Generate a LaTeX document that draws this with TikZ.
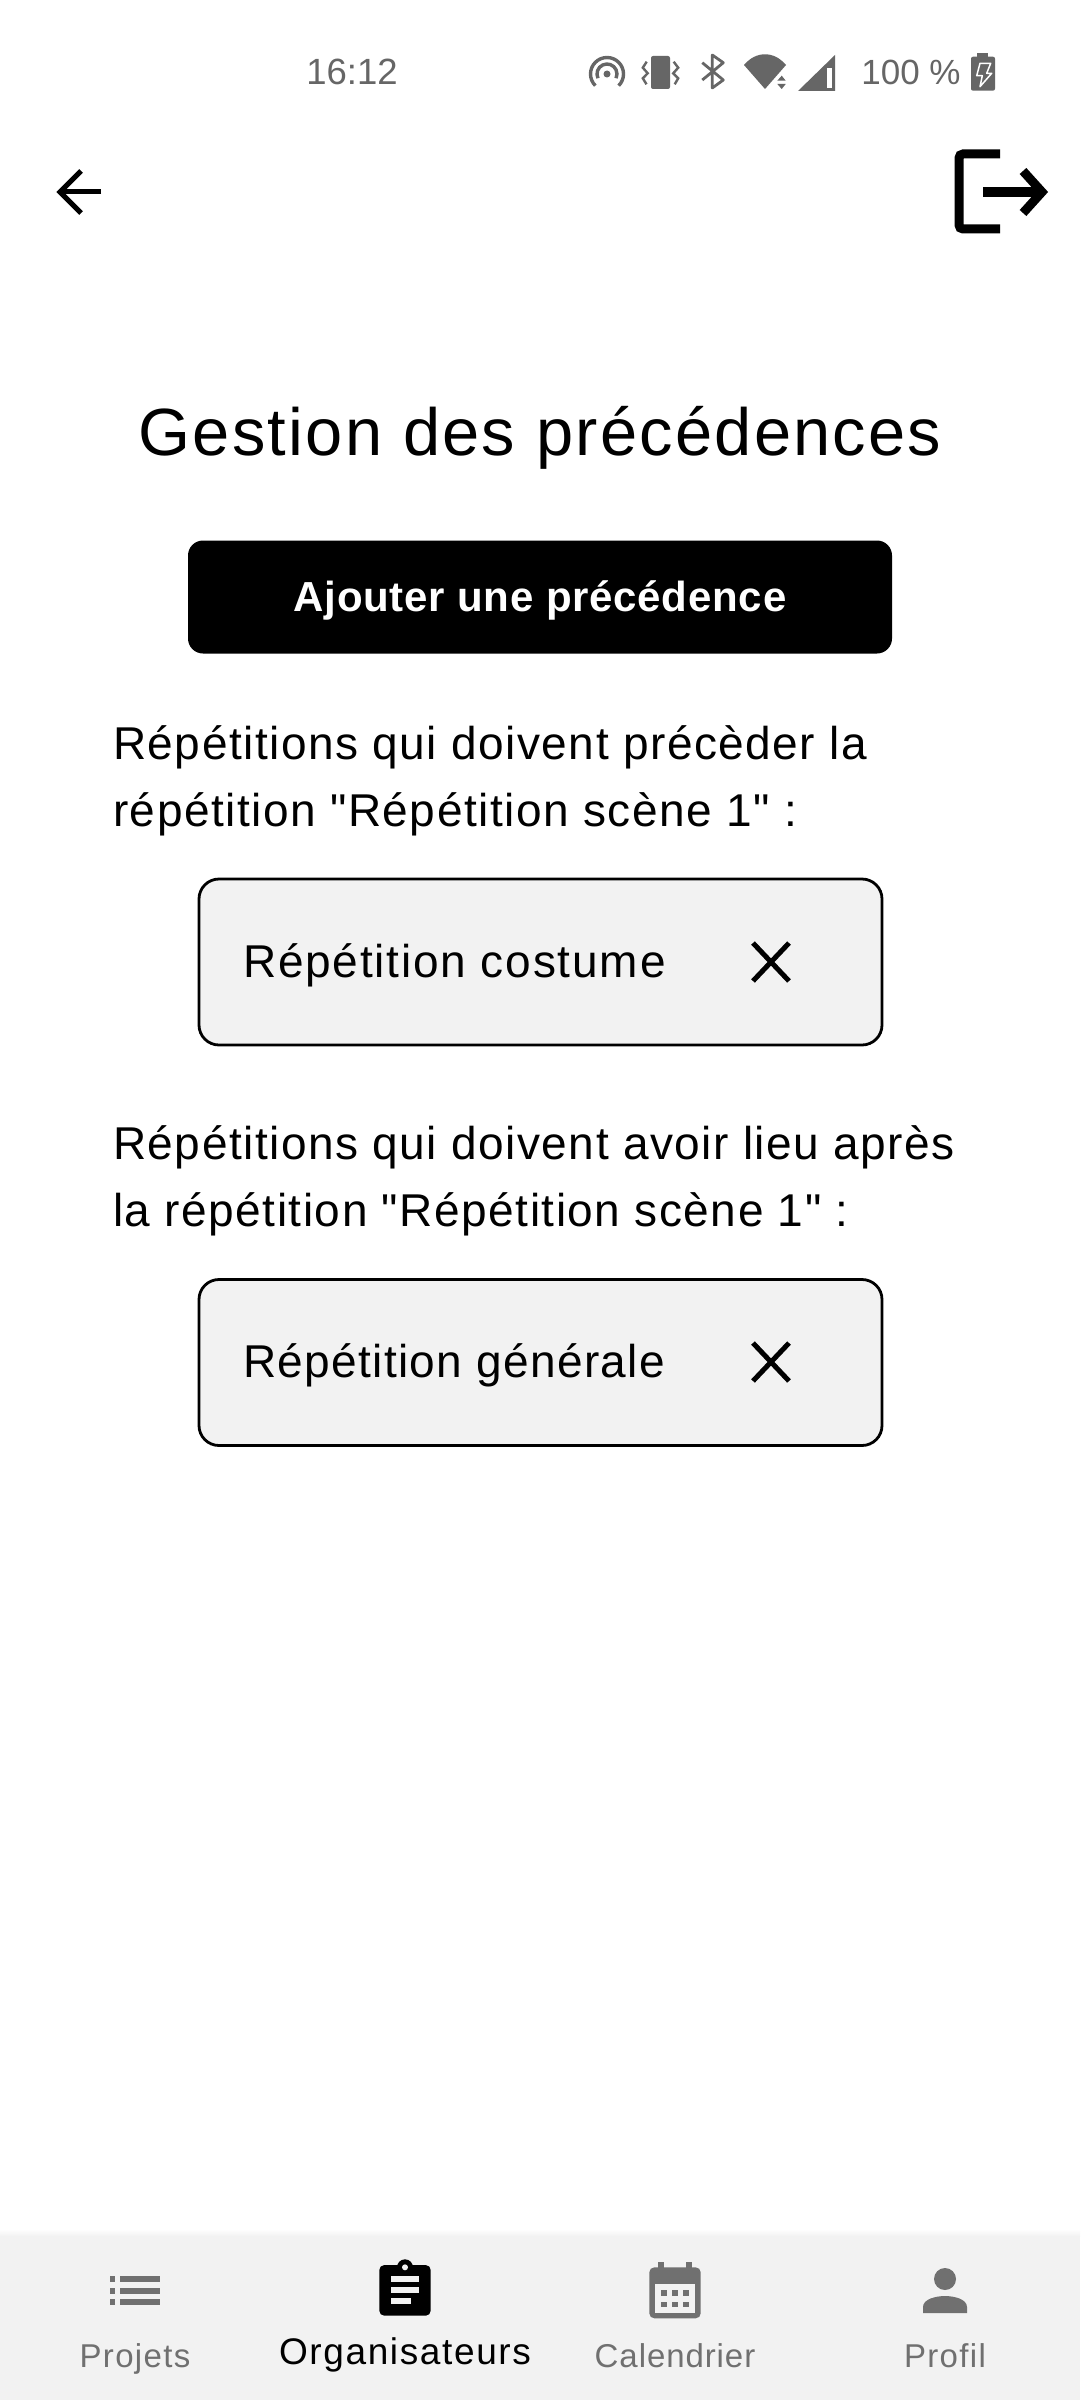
\documentclass[tikz,border=0pt]{standalone}
\usepackage{fontspec}
\setmainfont[Ligatures=TeXOff]{Liberation Sans}
\usetikzlibrary{positioning}
\definecolor{barbg}{RGB}{242, 242, 242}
\definecolor{statusgray}{RGB}{102, 102, 102}
\definecolor{navgray}{RGB}{112, 112, 112}
\tikzset{
    bodytext/.style={anchor=north west, align=left, inner sep=0pt,
                     font=\fontsize{46}{67}\selectfont\addfontfeature{LetterSpace=3.3}},
    cardbox/.style={draw=black, line width=2.8pt, fill=barbg, rounded corners=20pt,
                    minimum width=683pt, minimum height=166pt, inner sep=0pt},
    cardtext/.style={anchor=base west, inner sep=0pt,
                     font=\fontsize{46}{50}\selectfont\addfontfeature{LetterSpace=3.9}},
    navlabel/.style={anchor=base, inner sep=0pt, color=navgray,
                     font=\fontsize{33}{38}\selectfont\addfontfeature{LetterSpace=4}},
    statustext/.style={anchor=base, inner sep=0pt, color=statusgray, font=\fontsize{35}{40}\selectfont}
}
\begin{document}
\begin{tikzpicture}[x=1pt, y=-1pt]
    \useasboundingbox (0,0) rectangle (1080,2400);
    \fill[white] (0,0) rectangle (1080,2400);

    % Status bar
    \node[statustext, font=\fontsize{36.5}{40}\selectfont] (clock) at (352, 85) {16:12};
    \node[statustext] (battlevel) at (911, 85) {100 \%};
    % hotspot
    \fill[statusgray] (607,74) circle (3.5);
    \draw[statusgray, line width=3.4pt] (607,74) ++(155:10) arc[start angle=155, end angle=385, radius=10];
    \draw[statusgray, line width=3.4pt] (607,74) ++(135:16.5) arc[start angle=135, end angle=405, radius=16.5];
    % vibrate
    \fill[statusgray, rounded corners=2pt] (651,56) rectangle (670,89);
    \draw[statusgray, line width=2.4pt] (646.7,61.7) -- (642.8,67.7) -- (647.7,73.3) -- (642.8,78.3) -- (646.5,84.3);
    \draw[statusgray, line width=2.4pt] (673.7,61.7) -- (678.2,67.7) -- (673.2,73.3) -- (678.2,78.3) -- (674.7,84.3);
    % bluetooth
    \draw[statusgray, line width=2.8pt, line join=round] (702.3,62.7) -- (723.3,80) -- (712.3,88) -- (712.3,55) -- (723.3,62.7) -- (702.3,80);
    % wifi
    \fill[statusgray] (765,89) -- (744,65) .. controls (750,58) and (757,54.3) .. (765,54.3)
        .. controls (773,54.3) and (780,58) .. (786,65) -- cycle;
    \fill[statusgray] (781.7,75.7) -- (785.7,80.7) -- (777.3,80.7) -- cycle;
    \fill[statusgray] (781.7,89) -- (785.7,84) -- (777.3,84) -- cycle;
    % signal
    \fill[statusgray] (798,91) -- (835,55) -- (835,91) -- cycle;
    \fill[white] (827.3,68.3) rectangle (831.7,87.7);
    % battery
    \fill[statusgray, rounded corners=2pt] (971,56.7) rectangle (995,90.7);
    \fill[statusgray] (977,53) rectangle (988,58);
    \draw[white, line width=1.5pt, line join=round] (980,63.3) -- (990.7,63.3) -- (986.7,73.3) -- (991.7,73.3) -- (980,86.7) -- (982.3,75.7) -- (976.7,75.7) -- cycle;

    % Top icons
    \draw[black, line width=5pt] (101,192) -- (62,192);
    \draw[black, line width=5pt] (81,171) -- (60,192) -- (81,213);
    \draw[black, line width=9pt, rounded corners=4pt] (1000,154) -- (959,154) -- (959,229) -- (1000,229);
    \draw[black, line width=9.5pt] (983,192) -- (1038,192);
    \draw[black, line width=9pt] (1023,171) -- (1042,192) -- (1023,213);

    % Header
    \node[anchor=base, inner sep=0pt, font=\fontsize{66.8}{76}\selectfont\addfontfeature{LetterSpace=3.4}] (title) at (540, 455) {Gestion des précédences};
    \node[fill=black, rounded corners=15pt, minimum width=704pt, minimum height=113pt, inner sep=0pt,
          text=white, text height=38pt, text depth=9pt,
          font=\fontsize{42}{48}\selectfont\bfseries\addfontfeature{LetterSpace=1.8}] (addbtn) at (540, 597) {Ajouter une précédence};

    % Before and after lists
    \node[bodytext] (beforetext) at (113, 725) {Répétitions qui doivent précèder la\\répétition "Répétition scène 1" :};
    \node[cardbox] (beforecard) at (540.5, 962) {};
    \node[cardtext] (beforelabel) at (243, 977) {Répétition costume};
    \node[bodytext] (aftertext) at (113, 1125) {Répétitions qui doivent avoir lieu après\\la répétition "Répétition scène 1" :};
    \node[cardbox] (aftercard) at (540.5, 1362.5) {};
    \node[cardtext, font=\fontsize{46}{50}\selectfont\addfontfeature{LetterSpace=2.9}] (afterlabel) at (243, 1377) {Répétition générale};
    \foreach \y in {962, 1362} {
        \draw[black, line width=5pt] (753,\y-19) -- (789,\y+19);
        \draw[black, line width=5pt] (789,\y-19) -- (753,\y+19);
    }

    % Bottom bar
    \shade[top color=white, bottom color=barbg] (0,2229) rectangle (1080,2236);
    \fill[barbg] (0,2236) rectangle (1080,2400);
    \node[navlabel] (navprojets) at (135, 2367) {Projets};
    \node[navlabel, color=black, font=\fontsize{37}{44}\selectfont\addfontfeature{LetterSpace=4.4}] (navorga) at (405, 2364) {Organisateurs};
    \node[navlabel, font=\fontsize{33}{38}\selectfont\addfontfeature{LetterSpace=2.8}] (navcal) at (675, 2367) {Calendrier};
    \node[navlabel] (navprofil) at (945, 2367) {Profil};

    % list icon
    \foreach \y in {2276, 2288, 2299} {
        \fill[navgray] (110,\y) rectangle (115,\y+6);
        \fill[navgray] (120,\y) rectangle (160,\y+6);
    }
    % clipboard icon
    \fill[black, rounded corners=5pt] (379.3,2265) rectangle (430.7,2315.7);
    \fill[black] (405,2267.3) circle (8);
    \fill[barbg] (405,2267.3) circle (3);
    \foreach \y/\w in {2276/419.3, 2287.3/419.3, 2298.3/411} {
        \fill[barbg] (390.7,\y) rectangle (\w,\y+6);
    }
    % calendar icon
    \fill[navgray, rounded corners=5pt] (649.3,2267.3) rectangle (700.7,2318.3);
    \foreach \x in {658, 686} {
        \fill[navgray] (\x,2262.3) rectangle (\x+5.5,2270);
    }
    \fill[barbg] (655.3,2284.3) rectangle (695,2312.7);
    \foreach \x in {661, 672, 683.3} {
        \foreach \y in {2290, 2301.7} {
            \fill[navgray] (\x,\y) rectangle (\x+5.7,\y+5.7);
        }
    }
    % person icon
    \fill[navgray] (945,2279) ellipse (11 and 11);
    \fill[navgray] (923,2313) -- (923,2307) .. controls (923,2299) and (936,2296) .. (945,2296)
        .. controls (954,2296) and (967,2299) .. (967,2307) -- (967,2313) -- cycle;
\end{tikzpicture}
\end{document}
